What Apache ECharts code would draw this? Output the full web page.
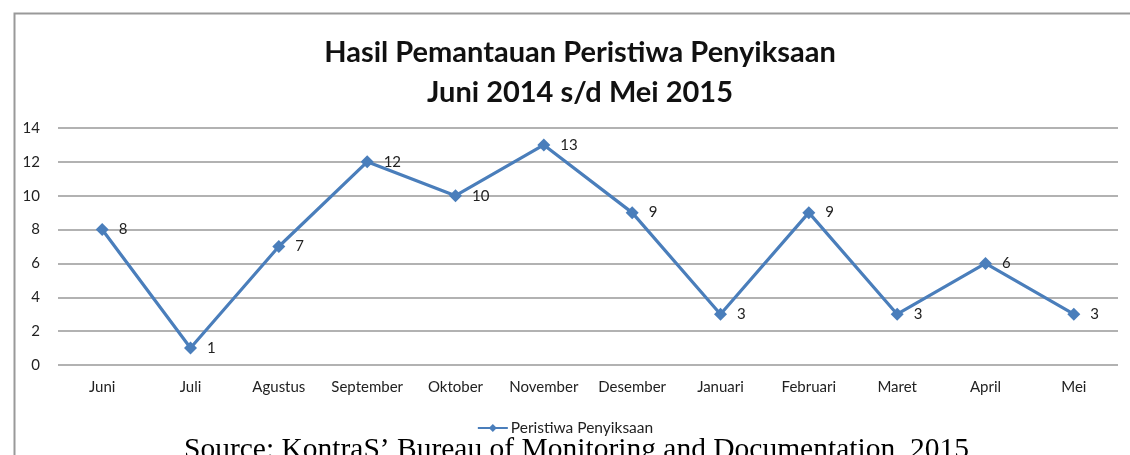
<!DOCTYPE html>
<html>
<head>
<meta charset="utf-8">
<script src="https://cdn.jsdelivr.net/npm/echarts@6/dist/echarts.min.js"></script>
<style>html,body{margin:0;padding:0;background:#fff}#c{width:1130px;height:455px}</style>
</head>
<body>
<div id="c"></div>
<script>
var categories = ['Juni','Juli','Agustus','September','Oktober','November','Desember','Januari','Februari','Maret','April','Mei'];
var values = [8,1,7,12,10,13,9,3,9,3,6,3];
var seriesName = 'Peristiwa Penyiksaan';
var titleLines = ['Hasil Pemantauan Peristiwa Penyiksaan','Juni 2014 s/d Mei 2015'];
var sourceText = "Source: KontraS\u2019 Bureau of Monitoring and Documentation, 2015";

var chart = echarts.init(document.getElementById('c'), null, {renderer:'canvas'});
var font = 'Lato, "Open Sans", sans-serif';
chart.setOption({
  animation:false,
  backgroundColor:'#fff',
  title:{
    text: titleLines.join('\n'),
    left: 575, textAlign:'center', top: 28,
    textStyle:{fontFamily:font, fontSize:29, fontWeight:'bold', color:'#111', lineHeight:40}
  },
  legend:{
    data:[seriesName], bottom: 14, left:'center',
    itemWidth:30, itemHeight:10, itemGap:4,
    textStyle:{fontFamily:font, fontSize:15.5, color:'#222', padding:[0,0,0,-2]}
  },
  grid:{left:58, right:12, top:128, bottom:90},
  xAxis:{
    type:'category', data:categories, boundaryGap:true,
    axisLine:{show:false}, axisTick:{show:false},
    axisLabel:{fontFamily:font, fontSize:15, color:'#222', margin:15, interval:0}
  },
  yAxis:{
    type:'value', min:0, max:14, interval:2,
    axisLine:{show:false}, axisTick:{show:false},
    axisLabel:{fontFamily:font, fontSize:15, color:'#222', margin:18},
    splitLine:{lineStyle:{color:'#999', width:1.5}}
  },
  series:[{
    name: seriesName, type:'line', data: values,
    symbol:'diamond', symbolSize:13,
    lineStyle:{color:'#4a7ebb', width:3.2},
    itemStyle:{color:'#4a7ebb'},
    label:{show:true, position:'right', distance:10, fontFamily:font, fontSize:15, color:'#222'}
  }],
  graphic:[
    {type:'rect', left:12, top:11, shape:{width:1130, height:470}, style:{fill:null, stroke:'#999', lineWidth:2}, silent:true, z:-1},
    {type:'text', left:184, top:435, style:{text:sourceText, font:'29.5px "Liberation Serif", "Times New Roman", serif', fill:'#000'}}
  ]
});
</script>
</body>
</html>
